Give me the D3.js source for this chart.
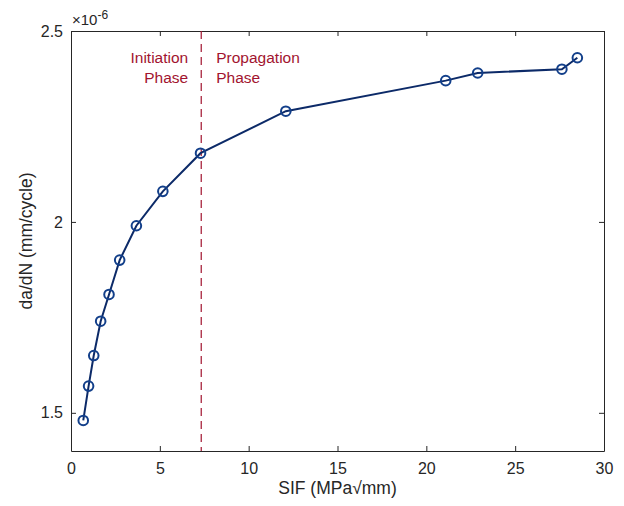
<!DOCTYPE html>
<html>
<head>
<meta charset="utf-8">
<script src="https://cdn.jsdelivr.net/npm/d3@7"></script>
<style>
body { margin: 0; background: #fff; }
text { font-family: "Liberation Sans", Arial, sans-serif; }
</style>
</head>
<body>
<div id="chart"></div>
<script>
// data
const sif = [0.69, 0.99, 1.28, 1.67, 2.14, 2.74, 3.68, 5.17, 7.29, 12.09, 21.09, 22.89, 27.63, 28.5];
const dadn = [1.48, 1.57, 1.65, 1.74, 1.81, 1.90, 1.99, 2.08, 2.18, 2.29, 2.37, 2.39, 2.40, 2.43]; // x1e-6
const xTicks = [0, 5, 10, 15, 20, 25, 30];
const yTicks = [1.5, 2, 2.5];
const phaseSplit = 7.33;

const W = 624, H = 506;
const margin = { top: 31, right: 20, bottom: 55, left: 71 };
const width = W - margin.left - margin.right,
      height = H - margin.top - margin.bottom;

const svg = d3.select("#chart").append("svg")
  .attr("width", W).attr("height", H)
  .append("g")
  .attr("transform", `translate(${margin.left},${margin.top})`);

const x = d3.scaleLinear().domain([0, 30]).range([0, width]);
const y = d3.scaleLinear().domain([1.4, 2.5]).range([height, 0]);

const axisCol = "#262626";
const tickFmt = d => d3.format("")(d);

// axes with inward ticks
svg.append("g").attr("transform", `translate(0,${height})`)
  .call(d3.axisBottom(x).tickValues(xTicks).tickSizeInner(-5).tickSizeOuter(0).tickPadding(12).tickFormat(tickFmt));
svg.append("g")
  .call(d3.axisLeft(y).tickValues(yTicks).tickSizeInner(-5).tickSizeOuter(0).tickPadding(8).tickFormat(tickFmt));
svg.append("g")
  .call(d3.axisTop(x).tickValues(xTicks).tickSizeInner(-5).tickSizeOuter(0).tickFormat(""));
svg.append("g").attr("transform", `translate(${width},0)`)
  .call(d3.axisRight(y).tickValues(yTicks).tickSizeInner(-5).tickSizeOuter(0).tickFormat(""));

svg.selectAll(".domain").attr("stroke", axisCol);
svg.selectAll(".tick line").attr("stroke", axisCol);
svg.selectAll(".tick text").attr("fill", axisCol).style("font-size", "16px");

// phase divider
const red = "#a2142f";
svg.append("line")
  .attr("x1", x(phaseSplit)).attr("x2", x(phaseSplit))
  .attr("y1", 0).attr("y2", height)
  .attr("stroke", red).attr("stroke-width", 1.2)
  .attr("stroke-dasharray", "8,5");

const lab = svg.append("g").style("font-size", "15.5px").attr("fill", red);
lab.append("text").attr("x", x(phaseSplit) - 13).attr("y", 32).attr("text-anchor", "end").text("Initiation");
lab.append("text").attr("x", x(phaseSplit) - 13).attr("y", 52).attr("text-anchor", "end").text("Phase");
lab.append("text").attr("x", x(phaseSplit) + 15).attr("y", 32).text("Propagation");
lab.append("text").attr("x", x(phaseSplit) + 15).attr("y", 52).text("Phase");

// curve
const pts = sif.map((d, i) => [d, dadn[i]]);
svg.append("path")
  .datum(pts)
  .attr("fill", "none")
  .attr("stroke", "#0c2a68")
  .attr("stroke-width", 2)
  .attr("d", d3.line().x(d => x(d[0])).y(d => y(d[1])));

svg.selectAll(".pt")
  .data(pts)
  .join("circle")
  .attr("class", "pt")
  .attr("cx", d => x(d[0]))
  .attr("cy", d => y(d[1]))
  .attr("r", 4.8)
  .attr("fill", "none")
  .attr("stroke", "#123f8a")
  .attr("stroke-width", 2);

// exponent label
const ex = svg.append("text").attr("x", 1).attr("y", -6).attr("fill", axisCol).style("font-size", "15px");
ex.append("tspan").text("\u00d710");
ex.append("tspan").attr("dy", -6).style("font-size", "12px").text("-6");

// axis titles
svg.append("text")
  .attr("x", width / 2).attr("y", height + 43)
  .attr("text-anchor", "middle").attr("fill", axisCol).style("font-size", "17.5px")
  .text("SIF (MPa\u221Amm)");
svg.append("text")
  .attr("transform", `translate(-39,${height / 2}) rotate(-90)`)
  .attr("text-anchor", "middle").attr("fill", axisCol).style("font-size", "17.5px")
  .text("da/dN (mm/cycle)");
</script>
</body>
</html>
